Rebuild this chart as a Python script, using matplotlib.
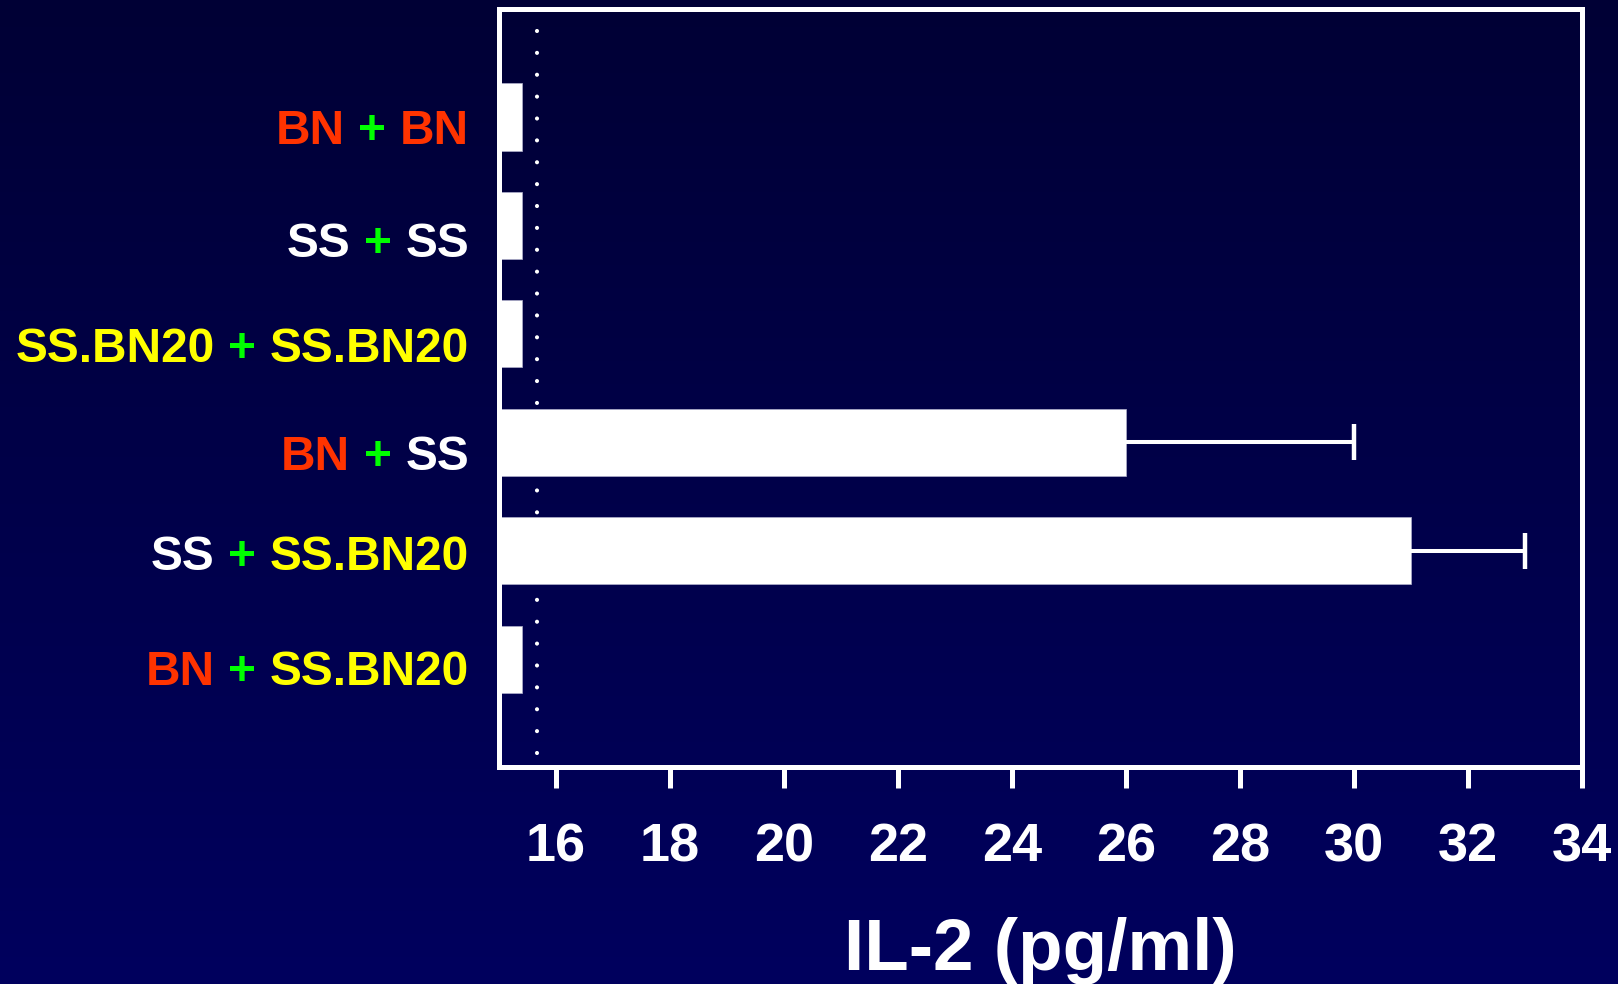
import numpy as np
import matplotlib
matplotlib.use("Agg")
import matplotlib.pyplot as plt
from matplotlib.colors import LinearSegmentedColormap
import matplotlib.transforms as mtransforms

# ---- data ----
donor = ["BN", "SS", "SS.BN20", "BN", "SS", "BN"]
recipient = ["BN", "SS", "SS.BN20", "SS", "SS.BN20", "SS.BN20"]
il2 = [15.4, 15.4, 15.4, 26.0, 31.0, 15.4]
il2_err = [0.0, 0.0, 0.0, 4.0, 2.0, 0.0]
baseline_level = 15.67
xticks = [16, 18, 20, 22, 24, 26, 28, 30, 32, 34]
xlabel = "IL-2 (pg/ml)"
strain_colors = {"BN": "#FF3300", "SS": "#FFFFFF", "SS.BN20": "#FFFF00"}
plus_color = "#00FF00"

# ---- figure ----
W, H, DPI = 1618, 984, 100
fig = plt.figure(figsize=(W / DPI, H / DPI), dpi=DPI)
plt.rcParams['font.family'] = ['Liberation Sans', 'DejaVu Sans']
plt.rcParams['font.weight'] = 'bold'

# background gradient
bg = fig.add_axes([0, 0, 1, 1], zorder=-10)
cmap = LinearSegmentedColormap.from_list("bg", ["#000035", "#00005E"])
grad = np.linspace(0, 1, 256).reshape(-1, 1)
bg.imshow(grad, aspect="auto", cmap=cmap, extent=[0, 1, 0, 1], origin="upper")
bg.set_axis_off()

left, right = 499 / W, 1582 / W
bottom, top = 1 - 766.5 / H, 1 - 8.5 / H
ax = fig.add_axes([left, bottom, right - left, top - bottom])
ax.set_facecolor("none")

y = np.arange(len(il2))
xmin = 15.0
ax.axvline(baseline_level, ymin=0.0178, ymax=0.972, color="white", lw=3.0,
           linestyle=(0, (0.001, 5.25)), dash_capstyle="round", zorder=1)
ax.barh(y, np.array(il2) - xmin, left=xmin, height=0.62, color="white",
        edgecolor="#B0B0CC", linewidth=0.5, zorder=2)
for yi, v, e in zip(y, il2, il2_err):
    if e > 0:
        eb = ax.errorbar(v, yi, xerr=[[0], [e]], fmt="none", ecolor="white",
                         elinewidth=2.9, capsize=13, capthick=3.2, zorder=3)
        caps = eb[1]
        if len(caps) > 1:
            caps[0].set_visible(False)

ax.set_xlim(15, 34)
ax.set_ylim(5.99, -1.0)
ax.set_xticks(xticks)
ax.set_xticklabels([str(t) for t in xticks])
ax.set_yticks([])
for s in ax.spines.values():
    s.set_color("white")
    s.set_linewidth(3.6)
ax.tick_params(axis="x", colors="white", length=15, width=3.6, pad=25,
               labelsize=39)
for lab in ax.get_xticklabels():
    lab.set_fontweight("bold")

ax.set_xlabel(xlabel, fontsize=52.5, fontweight="bold", color="white",
              va="baseline")
ax.xaxis.set_label_coords(0.5, (766.5 - 970) / 758)

# multi-coloured y labels
fs = 34.4
gap_pt = 9.8
label_offsets_px = [27, 32, 28.5, 28, 19, 25.6]
trans = mtransforms.blended_transform_factory(ax.transAxes, ax.transData)
for yi, d, r, off in zip(y, donor, recipient, label_offsets_px):
    pieces = [(r, strain_colors[r]), ("+", plus_color), (d, strain_colors[d])]
    prev = None
    for txt, col in pieces:
        if prev is None:
            prev = ax.annotate(txt, xy=(0, yi), xycoords=trans,
                               xytext=(-30 * 0.72, -off * 0.72),
                               textcoords="offset points", ha="right",
                               va="baseline", fontsize=fs, fontweight="bold",
                               color=col, annotation_clip=False)
        else:
            prev = ax.annotate(txt, xy=(0, 0), xycoords=prev,
                               xytext=(-gap_pt, 0), textcoords="offset points",
                               ha="right", va="bottom", fontsize=fs,
                               fontweight="bold", color=col,
                               annotation_clip=False)

fig.savefig("out.png", dpi=DPI)
